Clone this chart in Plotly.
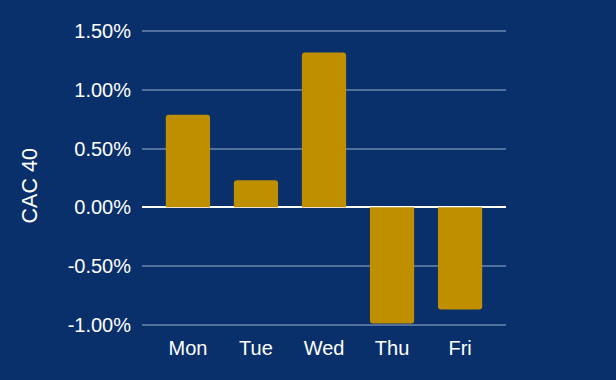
import plotly.graph_objects as go

days = ["Mon", "Tue", "Wed", "Thu", "Fri"]
cac40 = [0.0079, 0.0023, 0.0132, -0.0099, -0.0087]
y_ticks = [-0.01, -0.005, 0.0, 0.005, 0.01, 0.015]
y_labels = ["-1.00%", "-0.50%", "0.00%", "0.50%", "1.00%", "1.50%"]
y_title = "CAC 40"

bg = "#09306b"
fig = go.Figure(go.Bar(
    x=days, y=cac40,
    marker=dict(color="#bf8f00", cornerradius=3, line=dict(width=0)),
    width=0.65,
))
fig.update_layout(
    width=616, height=380,
    paper_bgcolor=bg, plot_bgcolor=bg,
    margin=dict(l=142, r=110, t=29, b=53),
    font=dict(family="Liberation Sans, Arial, sans-serif", color="white", size=20),
    showlegend=False,
    xaxis=dict(range=[-0.675, 4.675], showgrid=False, zeroline=False, showline=False,
               ticks="", tickfont=dict(size=20), ticklabelstandoff=7),
    yaxis=dict(range=[-1.02e-2, 1.52e-2], tickvals=y_ticks, ticktext=y_labels,
               showgrid=True, gridcolor="#52709c", gridwidth=1.5,
               zeroline=True, zerolinecolor="white", zerolinewidth=2,
               showline=False, ticks="", tickfont=dict(size=20), ticklabelstandoff=10),
    annotations=[dict(text=y_title, textangle=-90, xref="paper", yref="paper",
                      x=-0.3077, y=0.475, xanchor="center", yanchor="middle",
                      showarrow=False, font=dict(size=21.5, color="white"))],
)
fig.write_html("out.html", config={"displayModeBar": False},
               post_script="document.body.style.margin='0';")
